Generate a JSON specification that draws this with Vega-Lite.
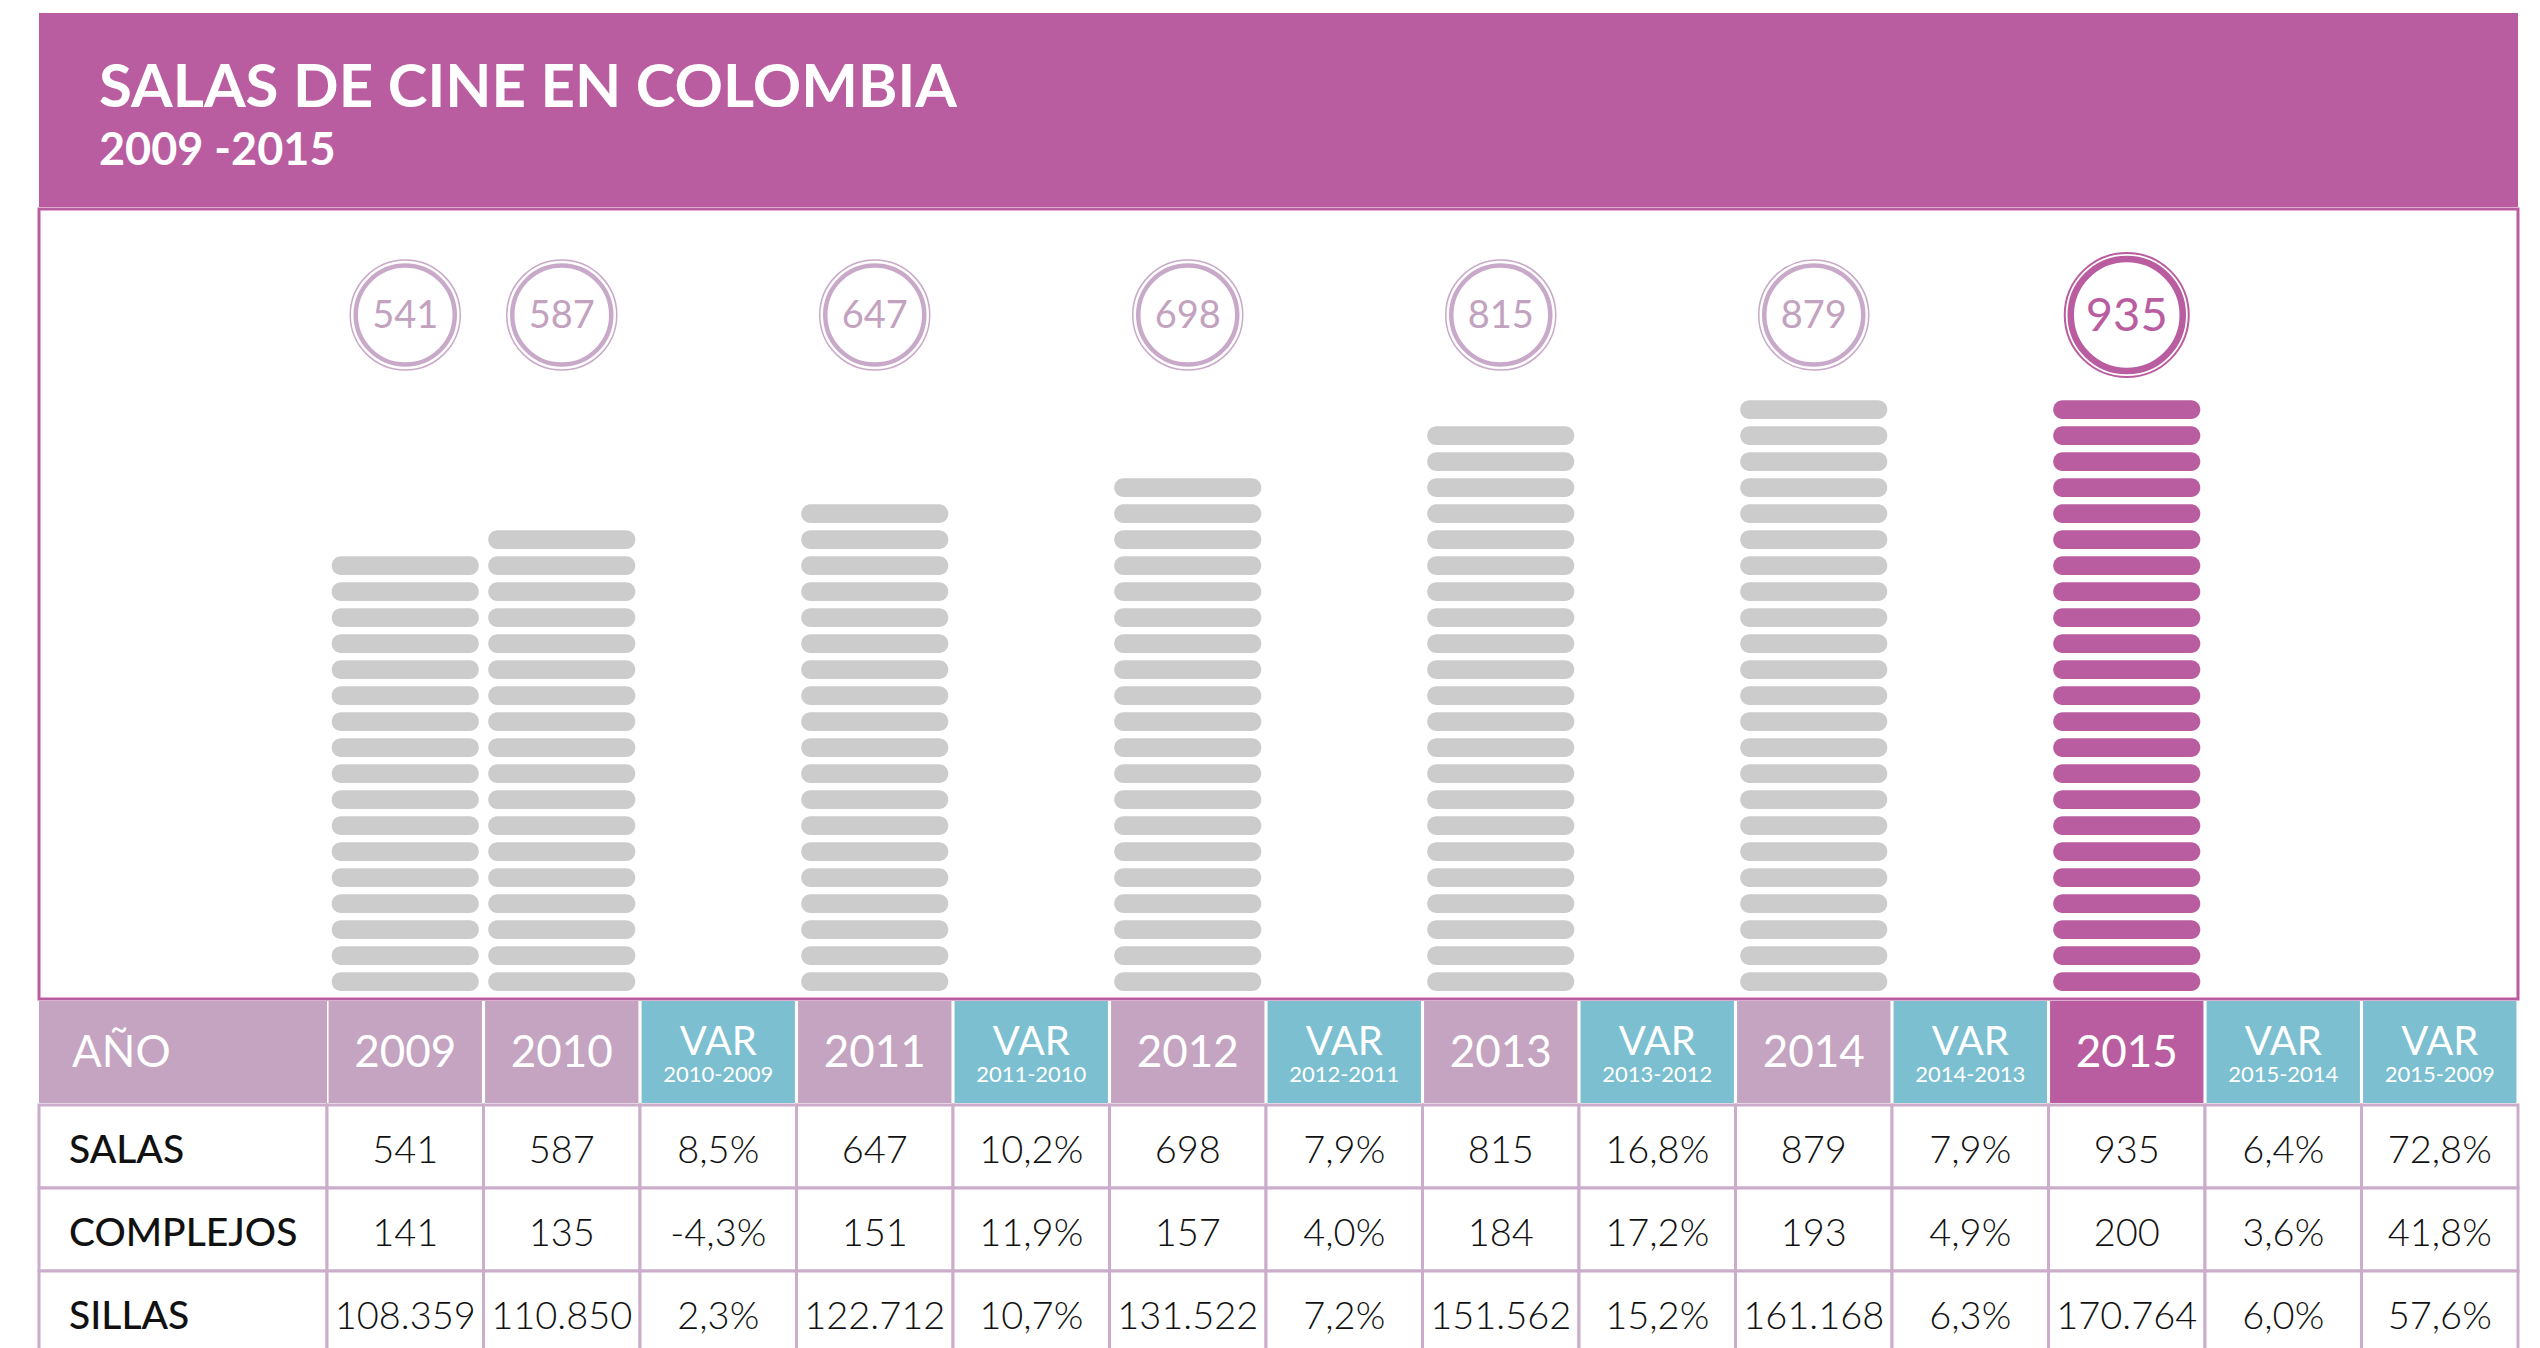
{
  "$schema": "https://vega.github.io/schema/vega-lite/v6.json",
  "background": "white",
  "padding": {"left": 37, "top": 13, "right": 24, "bottom": 0},
  "spacing": 0,
  "config": {"view": {"stroke": null}, "font": "Lato", "text": {"font": "Lato"}},
  "datasets": {
    "years": [
      {"year": "2009", "salas": 541, "n": [1,2,3,4,5,6,7,8,9,10,11,12,13,14,15,16,17]},
      {"year": "2010", "salas": 587, "n": [1,2,3,4,5,6,7,8,9,10,11,12,13,14,15,16,17,18]},
      {"year": "2011", "salas": 647, "n": [1,2,3,4,5,6,7,8,9,10,11,12,13,14,15,16,17,18,19]},
      {"year": "2012", "salas": 698, "n": [1,2,3,4,5,6,7,8,9,10,11,12,13,14,15,16,17,18,19,20]},
      {"year": "2013", "salas": 815, "n": [1,2,3,4,5,6,7,8,9,10,11,12,13,14,15,16,17,18,19,20,21,22]},
      {"year": "2014", "salas": 879, "n": [1,2,3,4,5,6,7,8,9,10,11,12,13,14,15,16,17,18,19,20,21,22,23]},
      {"year": "2015", "salas": 935, "n": [1,2,3,4,5,6,7,8,9,10,11,12,13,14,15,16,17,18,19,20,21,22,23]}
    ],
    "head": [
      {"col": "2009", "kind": "year", "main": "2009", "sub": ""},
      {"col": "2010", "kind": "year", "main": "2010", "sub": ""},
      {"col": "V10", "kind": "var", "main": "VAR", "sub": "2010-2009"},
      {"col": "2011", "kind": "year", "main": "2011", "sub": ""},
      {"col": "V11", "kind": "var", "main": "VAR", "sub": "2011-2010"},
      {"col": "2012", "kind": "year", "main": "2012", "sub": ""},
      {"col": "V12", "kind": "var", "main": "VAR", "sub": "2012-2011"},
      {"col": "2013", "kind": "year", "main": "2013", "sub": ""},
      {"col": "V13", "kind": "var", "main": "VAR", "sub": "2013-2012"},
      {"col": "2014", "kind": "year", "main": "2014", "sub": ""},
      {"col": "V14", "kind": "var", "main": "VAR", "sub": "2014-2013"},
      {"col": "2015", "kind": "hl", "main": "2015", "sub": ""},
      {"col": "V15", "kind": "var", "main": "VAR", "sub": "2015-2014"},
      {"col": "V1509", "kind": "var", "main": "VAR", "sub": "2015-2009"}
    ],
    "labels": [
      {"row": "SALAS", "c": "lbl"},
      {"row": "COMPLEJOS", "c": "lbl"},
      {"row": "SILLAS", "c": "lbl"}
    ],
    "cells": [
      {"row": "SALAS", "col": "2009", "val": "541"},
      {"row": "SALAS", "col": "2010", "val": "587"},
      {"row": "SALAS", "col": "V10", "val": "8,5%"},
      {"row": "SALAS", "col": "2011", "val": "647"},
      {"row": "SALAS", "col": "V11", "val": "10,2%"},
      {"row": "SALAS", "col": "2012", "val": "698"},
      {"row": "SALAS", "col": "V12", "val": "7,9%"},
      {"row": "SALAS", "col": "2013", "val": "815"},
      {"row": "SALAS", "col": "V13", "val": "16,8%"},
      {"row": "SALAS", "col": "2014", "val": "879"},
      {"row": "SALAS", "col": "V14", "val": "7,9%"},
      {"row": "SALAS", "col": "2015", "val": "935"},
      {"row": "SALAS", "col": "V15", "val": "6,4%"},
      {"row": "SALAS", "col": "V1509", "val": "72,8%"},
      {"row": "COMPLEJOS", "col": "2009", "val": "141"},
      {"row": "COMPLEJOS", "col": "2010", "val": "135"},
      {"row": "COMPLEJOS", "col": "V10", "val": "-4,3%"},
      {"row": "COMPLEJOS", "col": "2011", "val": "151"},
      {"row": "COMPLEJOS", "col": "V11", "val": "11,9%"},
      {"row": "COMPLEJOS", "col": "2012", "val": "157"},
      {"row": "COMPLEJOS", "col": "V12", "val": "4,0%"},
      {"row": "COMPLEJOS", "col": "2013", "val": "184"},
      {"row": "COMPLEJOS", "col": "V13", "val": "17,2%"},
      {"row": "COMPLEJOS", "col": "2014", "val": "193"},
      {"row": "COMPLEJOS", "col": "V14", "val": "4,9%"},
      {"row": "COMPLEJOS", "col": "2015", "val": "200"},
      {"row": "COMPLEJOS", "col": "V15", "val": "3,6%"},
      {"row": "COMPLEJOS", "col": "V1509", "val": "41,8%"},
      {"row": "SILLAS", "col": "2009", "val": "108.359"},
      {"row": "SILLAS", "col": "2010", "val": "110.850"},
      {"row": "SILLAS", "col": "V10", "val": "2,3%"},
      {"row": "SILLAS", "col": "2011", "val": "122.712"},
      {"row": "SILLAS", "col": "V11", "val": "10,7%"},
      {"row": "SILLAS", "col": "2012", "val": "131.522"},
      {"row": "SILLAS", "col": "V12", "val": "7,2%"},
      {"row": "SILLAS", "col": "2013", "val": "151.562"},
      {"row": "SILLAS", "col": "V13", "val": "15,2%"},
      {"row": "SILLAS", "col": "2014", "val": "161.168"},
      {"row": "SILLAS", "col": "V14", "val": "6,3%"},
      {"row": "SILLAS", "col": "2015", "val": "170.764"},
      {"row": "SILLAS", "col": "V15", "val": "6,0%"},
      {"row": "SILLAS", "col": "V1509", "val": "57,6%"}
    ]
  },
  "vconcat": [
    {
      "width": 2479,
      "height": 194,
      "view": {"fill": "#B95DA0", "stroke": null},
      "title": {
        "text": "SALAS DE CINE EN COLOMBIA",
        "subtitle": "2009 -2015",
        "anchor": "start",
        "dx": 60,
        "offset": -161.85,
        "font": "Lato",
        "fontSize": 60,
        "fontWeight": "bold",
        "color": "white",
        "subtitleFont": "Lato",
        "subtitleFontSize": 45,
        "subtitleFontWeight": "bold",
        "subtitleColor": "white",
        "subtitlePadding": 9.25
      },
      "data": {"values": [{"band": "header"}]},
      "mark": {"type": "rect", "color": "#B95DA0"}
    },
    {
      "width": 2479,
      "height": 790,
      "view": {"stroke": "#B95DA0", "strokeWidth": 3},
      "data": {"name": "years"},
      "encoding": {
        "x": {"field": "year", "type": "nominal", "axis": null,
              "scale": {"domain": ["2009","2010","V10","2011","V11","2012","V12","2013","V13","2014","V14","2015","V15","V1509"], "range": [288, 2479], "paddingInner": 0, "paddingOuter": 0}}
      },
      "layer": [
        {
          "transform": [{"flatten": ["n"], "as": ["i"]}],
          "mark": {"type": "rect", "cornerRadius": 9.3, "width": {"band": 0.94}},
          "encoding": {
            "y": {"field": "i", "type": "ordinal", "axis": null,
                  "scale": {"domain": [23,22,21,20,19,18,17,16,15,14,13,12,11,10,9,8,7,6,5,4,3,2,1], "range": [191.3, 782], "paddingInner": 0.28, "paddingOuter": 0}},
            "color": {"condition": {"test": "datum.year === '2015'", "value": "#B95DA0"}, "value": "#CCCCCC"}
          }
        },
        {
          "encoding": {
            "y": {"datum": "c", "type": "nominal", "axis": null, "scale": {"domain": ["c"], "range": [0, 212]}}
          },
          "layer": [
            {
              "mark": {"type": "point", "shape": "circle", "filled": false, "opacity": 1},
              "encoding": {
                "color": {"condition": {"test": "datum.year === '2015'", "value": "#B95DA0"}, "value": "#C9A9C9"},
                "size": {"condition": {"test": "datum.year === '2015'", "value": 15376}, "value": 12100},
                "strokeWidth": {"condition": {"test": "datum.year === '2015'", "value": 2}, "value": 1.5}
              }
            },
            {
              "mark": {"type": "point", "shape": "circle", "filled": false, "opacity": 1},
              "encoding": {
                "color": {"condition": {"test": "datum.year === '2015'", "value": "#B95DA0"}, "value": "#C9A9C9"},
                "size": {"condition": {"test": "datum.year === '2015'", "value": 12544}, "value": 9801},
                "strokeWidth": {"condition": {"test": "datum.year === '2015'", "value": 6.5}, "value": 4.5}
              }
            },
            {
              "mark": {"type": "text", "baseline": "middle", "dy": 2, "font": "Lato"},
              "encoding": {
                "text": {"field": "salas"},
                "color": {"condition": {"test": "datum.year === '2015'", "value": "#B95DA0"}, "value": "#C3A2BF"},
                "size": {"condition": {"test": "datum.year === '2015'", "value": 47}, "value": 38}
              }
            }
          ]
        }
      ],
      "resolve": {"scale": {"y": "independent"}}
    },
    {
      "width": 2479,
      "height": 102,
      "layer": [
        {
          "data": {"values": [{"c": "AÑO"}]},
          "layer": [
            {
              "mark": {"type": "rect", "color": "#C4A4C0"},
              "encoding": {
                "x": {"field": "c", "type": "nominal", "axis": null, "scale": {"domain": ["AÑO"], "range": [0, 288], "paddingInner": 0, "paddingOuter": 0}}
              }
            },
            {
              "mark": {"type": "text", "align": "left", "baseline": "alphabetic", "dx": 33, "dy": 15, "fontSize": 44, "color": "white", "font": "Lato"},
              "encoding": {
                "x": {"field": "c", "type": "nominal", "bandPosition": 0, "axis": null, "scale": {"domain": ["AÑO"], "range": [0, 288], "paddingInner": 0, "paddingOuter": 0}},
                "text": {"field": "c"}
              }
            }
          ]
        },
        {
          "data": {"name": "head"},
          "encoding": {
            "x": {"field": "col", "type": "nominal", "axis": null,
                  "scale": {"domain": ["2009","2010","V10","2011","V11","2012","V12","2013","V13","2014","V14","2015","V15","V1509"], "range": [288, 2479], "paddingInner": 0, "paddingOuter": 0}}
          },
          "layer": [
            {
              "mark": {"type": "rect", "width": {"band": 0.98}},
              "encoding": {
                "color": {"field": "kind", "type": "nominal", "legend": null,
                          "scale": {"domain": ["year", "var", "hl"], "range": ["#C4A4C0", "#7BBFD1", "#B95DA0"]}}
              }
            },
            {
              "transform": [{"filter": "datum.kind !== 'var'"}],
              "mark": {"type": "text", "baseline": "alphabetic", "dy": 15, "fontSize": 44, "color": "white", "font": "Lato"},
              "encoding": {"text": {"field": "main"}}
            },
            {
              "transform": [{"filter": "datum.kind === 'var'"}],
              "mark": {"type": "text", "baseline": "alphabetic", "dy": 3, "fontSize": 40, "color": "white", "font": "Lato"},
              "encoding": {"text": {"field": "main"}}
            },
            {
              "transform": [{"filter": "datum.kind === 'var'"}],
              "mark": {"type": "text", "baseline": "alphabetic", "dy": 30, "fontSize": 22, "color": "white", "font": "Lato"},
              "encoding": {"text": {"field": "sub"}}
            }
          ]
        }
      ],
      "resolve": {"scale": {"x": "independent"}}
    },
    {
      "width": 2479,
      "height": 249,
      "layer": [
        {
          "data": {"name": "labels"},
          "encoding": {
            "y": {"field": "row", "type": "nominal", "axis": null, "scale": {"domain": ["SALAS", "COMPLEJOS", "SILLAS"], "paddingInner": 0, "paddingOuter": 0}}
          },
          "layer": [
            {
              "mark": {"type": "rect", "fill": "white", "stroke": "#CBADCB", "strokeWidth": 3},
              "encoding": {
                "x": {"field": "c", "type": "nominal", "axis": null, "scale": {"domain": ["lbl"], "range": [0, 288], "paddingInner": 0, "paddingOuter": 0}}
              }
            },
            {
              "mark": {"type": "text", "align": "left", "baseline": "alphabetic", "dx": 30, "dy": 16.5, "fontSize": 39, "fontWeight": 500, "color": "#111111", "font": "Lato"},
              "encoding": {
                "x": {"field": "c", "type": "nominal", "bandPosition": 0, "axis": null, "scale": {"domain": ["lbl"], "range": [0, 288], "paddingInner": 0, "paddingOuter": 0}},
                "text": {"field": "row"}
              }
            }
          ]
        },
        {
          "data": {"name": "cells"},
          "encoding": {
            "x": {"field": "col", "type": "nominal", "axis": null,
                  "scale": {"domain": ["2009","2010","V10","2011","V11","2012","V12","2013","V13","2014","V14","2015","V15","V1509"], "range": [288, 2479], "paddingInner": 0, "paddingOuter": 0}},
            "y": {"field": "row", "type": "nominal", "axis": null, "scale": {"domain": ["SALAS", "COMPLEJOS", "SILLAS"], "paddingInner": 0, "paddingOuter": 0}}
          },
          "layer": [
            {
              "mark": {"type": "rect", "fill": "white", "stroke": "#CBADCB", "strokeWidth": 3}
            },
            {
              "mark": {"type": "text", "baseline": "alphabetic", "dy": 16.5, "fontSize": 38, "fontWeight": 300, "color": "#111111", "font": "Lato"},
              "encoding": {"text": {"field": "val"}}
            }
          ]
        }
      ],
      "resolve": {"scale": {"x": "independent"}}
    }
  ]
}
